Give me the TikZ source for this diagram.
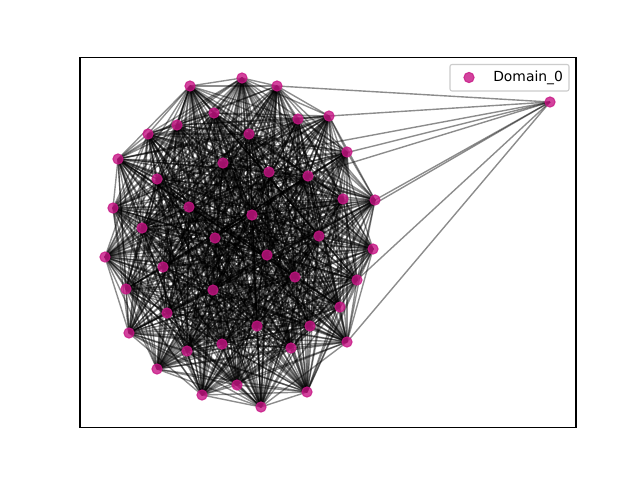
\documentclass[tikz,border=0pt]{standalone}
\usepackage{fontspec}
\setmainfont{DejaVu Sans}
\begin{document}
\begin{tikzpicture}[x=0.72pt,y=-0.72pt,
  edge/.style={draw=black,opacity=0.45,line width=1pt},
  dot/.style={circle,fill={rgb,255:red,199;green,21;blue,133},fill opacity=0.8,draw={rgb,255:red,199;green,21;blue,133},draw opacity=0.8,line width=0.7pt,inner sep=0pt,minimum size=7.4pt},
  frame/.style={draw=black,line width=0.8pt},
  legbox/.style={draw={rgb,255:red,204;green,204;blue,204},fill=white,fill opacity=0.8,rounded corners=1.5pt,line width=0.8pt}]
\useasboundingbox (0,0) rectangle (640,480);
\fill[white] (0,0) rectangle (640,480);
\foreach \x/\y [count=\n] in {
242/78, 190/86, 277/86, 214/113, 329/116, 298/119, 177/125, 148/134, 249/134, 347/152,
118/159, 223/163, 269/172, 308/176, 157/179, 343/199, 375/200, 113/208, 189/207, 252/215,
142/228, 215/238, 319/236, 105/257, 373/249, 267/255, 163/267, 295/277, 357/280, 126/289,
213/290, 340/307, 167/313, 310/326, 257/326, 129/333, 222/344, 187/351, 291/348, 347/342,
157/369, 237/385, 202/395, 307/392, 261/407, 550/102}
{\coordinate (p\n) at (\x,\y);}
% inner edges
\foreach \i in {1,...,44}{
  \pgfmathtruncatemacro\s{\i+1}
  \foreach \j in {\s,...,45}{
    \pgfmathtruncatemacro\k{mod(\i*17+\j*31,7)}
    \ifnum\k>0 \draw[edge] (p\i) -- (p\j);\fi
  }
}
% outer node edges
\foreach \j in {3,5,12,13,14,17,23,29,40}{
  \draw[edge] (p46) -- (p\j);
}
\foreach \n in {1,...,46}{
  \node[dot] (n\n) at (p\n) {};
}
\draw[frame] (80,57.6) rectangle (576,427.2);
\draw[legbox] (450,64.5) rectangle (569,91);
\node[dot] (legdot) at (469,77.5) {};
\node[anchor=west,inner sep=0pt,font=\fontsize{10pt}{12pt}\selectfont] (legtxt) at (493,77.5) {Domain\_0};
\end{tikzpicture}
\end{document}
